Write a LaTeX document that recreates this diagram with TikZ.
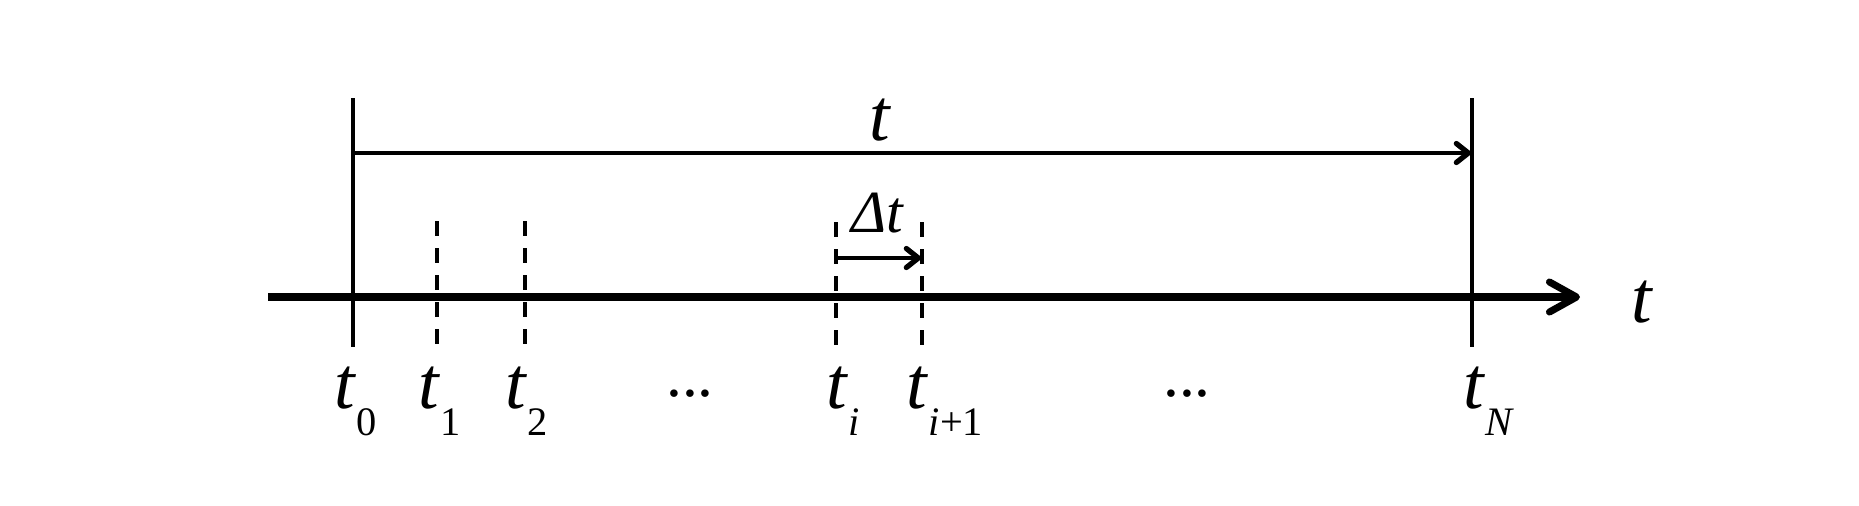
\documentclass[tikz,border=0pt]{standalone}
\usepackage{fontspec}
\setmainfont{Liberation Serif}
\usetikzlibrary{arrows.meta}
\newcommand{\bigfont}{\fontsize{21pt}{24pt}\selectfont}
\newcommand{\midfont}{\fontsize{17pt}{19pt}\selectfont}
\newcommand{\subfont}{\fontsize{11.5pt}{13pt}\selectfont}
\newcommand{\tvar}{\textit{t}}
\newcommand{\tsub}[1]{{\bigfont\tvar}\raisebox{-0.27cm}{\subfont #1}}
\begin{document}
\begin{tikzpicture}[x=0.01cm,y=-0.01cm,
  solidline/.style={line width=0.9pt},
  dashline/.style={line width=1pt,dash pattern=on 0.15cm off 0.12cm},
  axisline/.style={line width=2pt,-{Straight Barb[length=0.27cm,width=0.3cm,line width=2pt,line cap=round,line join=round]}},
  spanarrow/.style={line width=1pt,-{Straight Barb[length=0.12cm,width=0.19cm,line width=1.5pt,line cap=round,line join=round]}},
  lab/.style={inner sep=0pt,anchor=base}]
\useasboundingbox (0,0) rectangle (1859,505);
% axis
\coordinate (axL) at (268,297);
\coordinate (axR) at (1580,297);
\draw[axisline] (axL) -- (axR);
\node[lab] (taxis) at (1642,322) {\bigfont\tvar};
% solid verticals
\coordinate (v0t) at (353,98); \coordinate (v0b) at (353,347);
\coordinate (vNt) at (1472,98); \coordinate (vNb) at (1472,347);
\draw[solidline] (v0t) -- (v0b);
\draw[solidline] (vNt) -- (vNb);
% top span arrow
\coordinate (sa) at (353,153); \coordinate (sb) at (1471,153);
\draw[spanarrow] (sa) -- (sb);
\node[lab] (ttop) at (880,140) {\bigfont\tvar};
% dashed verticals
\coordinate (d1t) at (437,221); \coordinate (d1b) at (437,348);
\coordinate (d2t) at (525,221); \coordinate (d2b) at (525,348);
\coordinate (dit) at (836,222); \coordinate (dib) at (836,348);
\coordinate (djt) at (922,222); \coordinate (djb) at (922,348);
\draw[dashline] (d1t) -- (d1b);
\draw[dashline] (d2t) -- (d2b);
\draw[dashline] (dit) -- (dib);
\draw[dashline] (djt) -- (djb);
% delta t arrow
\coordinate (da) at (836,258); \coordinate (db) at (921,258);
\draw[spanarrow] (da) -- (db);
\node[lab] (dt) at (878,232) {\midfont\textit{Δt}};
% labels
\node[lab] (l0) at (356,408) {\tsub{0}};
\node[lab] (l1) at (440,408) {\tsub{1}};
\node[lab] (l2) at (527,408) {\tsub{2}};
\node[lab] (li) at (843,408) {\tsub{\textit{i}}};
\node[lab] (lj) at (945,408) {\tsub{\textit{i}+1}};
\node[lab] (lN) at (1489,408) {\tsub{\textit{N}}};
\node[lab] (e1) at (690,396) {\fontsize{18pt}{20pt}\selectfont ...};
\node[lab] (e2) at (1187,396) {\fontsize{18pt}{20pt}\selectfont ...};
\end{tikzpicture}
\end{document}
